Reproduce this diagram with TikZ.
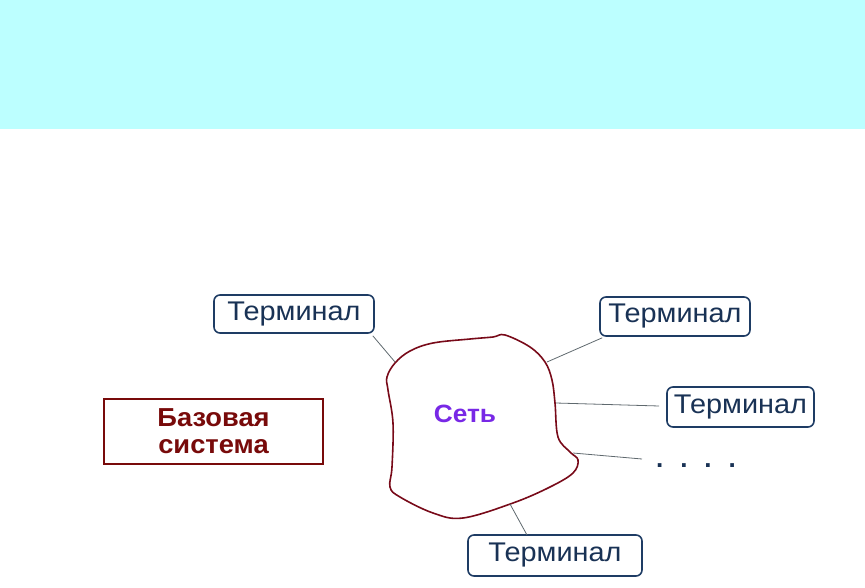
\documentclass[tikz,border=0pt]{standalone}
\usepackage{fontspec}
\setmainfont{Liberation Sans}
\usepackage{graphicx}
\begin{document}
\begin{tikzpicture}[x=1pt,y=-1pt,
  termbox/.style={draw=termblue, line width=1.6pt, rounded corners=6pt, fill=white, inner sep=0pt, text=termtext},
  wire/.style={draw=wiregray, line width=0.8pt},
  blob/.style={draw=blobred, line width=1.6pt},
]
\definecolor{band}{RGB}{188,255,255}
\definecolor{termblue}{RGB}{30,60,100}
\definecolor{termtext}{RGB}{25,50,85}
\definecolor{wiregray}{RGB}{95,105,110}
\definecolor{blobred}{RGB}{120,10,25}
\definecolor{basered}{RGB}{120,10,10}
\definecolor{netpurple}{RGB}{120,40,230}
\useasboundingbox (0,0) rectangle (865,587);
\fill[band] (0,0) rectangle (865,129);

\newcommand{\termtxt}{\fontsize{27}{30}\selectfont\scalebox{1.07}[1]{Терминал}}

\node[termbox, minimum width=160pt, minimum height=38pt] (t1) at (294,314) {\termtxt};
\node[termbox, minimum width=150pt, minimum height=39pt] (t2) at (675,316.5) {\termtxt};
\node[termbox, minimum width=147pt, minimum height=40pt] (t3) at (740.5,407) {\termtxt};
\node[termbox, minimum width=174pt, minimum height=41pt] (t4) at (555,555.5) {\termtxt};

\node[draw=basered, line width=1.4pt, minimum width=219pt, minimum height=65pt, inner sep=0pt,
  text=basered, font=\bfseries\fontsize{26}{27}\selectfont, align=center] (base) at (213.5,431.5)
  {\scalebox{1.05}[1]{Базовая}\\\scalebox{1.05}[1]{система}};

\draw[blob] plot[smooth cycle, tension=0.6] coordinates {
  (395,363) (410,351) (433,343) (470,339) (493,337) (505,335) (530,347) (545,362)
  (552,380) (555,403) (558,437) (570,452) (578,460) (573,473) (550,487) (513,503)
  (463,518) (433,513) (400,497) (390,487) (392,467) (393,423) (388,390) (387,377)};

\node[text=netpurple, font=\bfseries\fontsize{25}{28}\selectfont] (net) at (465,414) {\scalebox{1.05}[1]{Сеть}};

\coordinate (b1) at (395,362);
\coordinate (b2) at (547,362);
\coordinate (b3) at (556,403);
\coordinate (b4) at (573,453);
\coordinate (b5) at (510,504);
\coordinate (e5) at (527,535);

\node[text=termtext, font=\bfseries\fontsize{26}{28}\selectfont, inner sep=0pt, anchor=base] (dots) at (696,467)
  {.\hspace{17pt}.\hspace{17pt}.\hspace{17pt}.};
\coordinate (d1) at (642,459);

\draw[wire] (t1.south east) ++(-2,2) -- (b1);
\draw[wire] (t2.south west) ++(3,1) -- (b2);
\draw[wire] (t3.west) ++(-7,-1) -- (b3);
\draw[wire] (b4) -- (d1);
\draw[wire] (b5) -- (e5);
\end{tikzpicture}
\end{document}
